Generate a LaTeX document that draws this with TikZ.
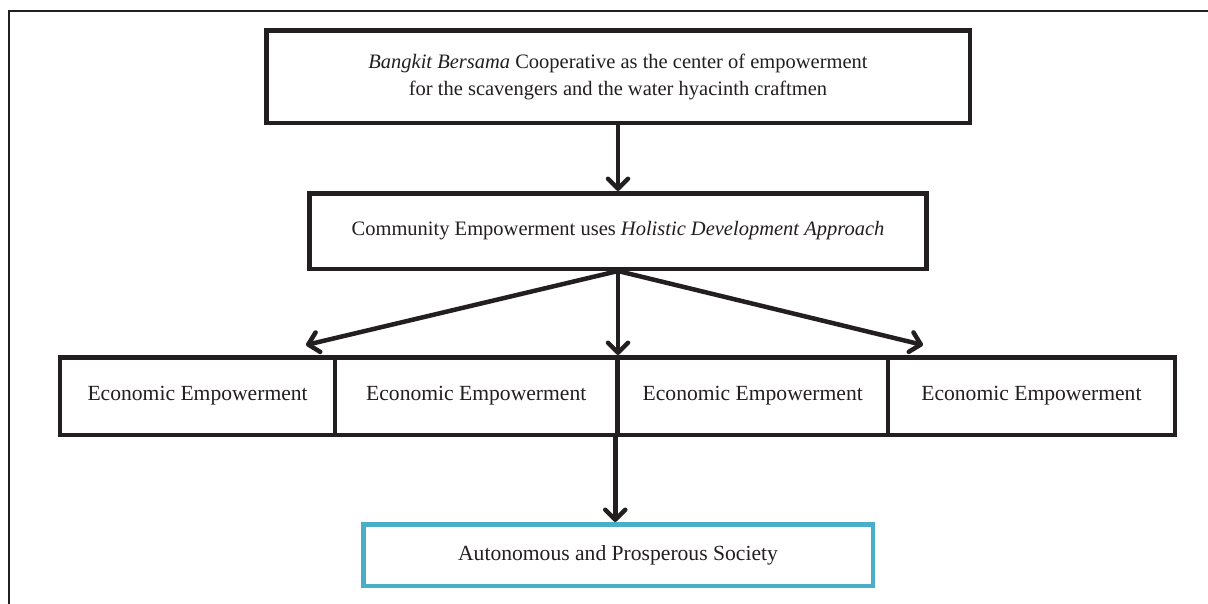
\documentclass[tikz,border=0pt]{standalone}
\usepackage{fontspec}
\setmainfont{Liberation Serif}
\usetikzlibrary{arrows.meta,calc}
\definecolor{ink}{HTML}{231F20}
\definecolor{cyanline}{HTML}{4BAEC8}
\begin{document}
\begin{tikzpicture}[x=1pt,y=-1pt,
  box/.style={draw=ink, line width=4.5pt, rectangle, inner sep=0pt, align=center,
    font=\fontsize{20.5}{27}\selectfont, text=ink},
  cell/.style={box, minimum height=77.5pt, font=\fontsize{21.6}{27}\selectfont},
  goal/.style={box, draw=cyanline, font=\fontsize{21.6}{27}\selectfont},
  arr/.style={draw=ink, line width=4.5pt, line cap=round,
    -{Straight Barb[length=10pt,width=20pt,line cap=round,line join=round]}}]
\useasboundingbox (0,0) rectangle (1208,603);
\clip (0,0) rectangle (1208,603);
\fill[white] (0,0) rectangle (1208,603);
\draw[ink, line width=2pt] (9,11) rectangle (1230,640);
\node[box, minimum width=703.5pt, minimum height=92.5pt] (top) at (618,76.5)
  {\textit{Bangkit Bersama} Cooperative as the center of empowerment\\for the scavengers and the water hyacinth craftmen};
\node[box, minimum width=617pt, minimum height=75.5pt] (mid) at (618,231)
  {Community Empowerment uses \textit{Holistic Development Approach}};
\node[cell, minimum width=274.75pt] (e1) at (197.6,396) {Economic Empowerment};
\node[cell, minimum width=282.5pt] (e2) at (476.25,396) {Economic Empowerment};
\node[cell, minimum width=270.5pt] (e3) at (752.75,396) {Economic Empowerment};
\node[cell, minimum width=286.75pt] (e4) at (1031.4,396) {Economic Empowerment};
\node[goal, minimum width=509.5pt, minimum height=61.5pt] (soc) at (618,555)
  {Autonomous and Prosperous Society};
\coordinate (tl) at (306,345);
\coordinate (tr) at (923,345);
\draw[arr] (top.south) -- (top.south |- mid.north);
\draw[arr] (mid.south) -- (tl);
\draw[arr] (mid.south) -- (tr);
\draw[arr] (mid.south) -- (mid.south |- e3.north);
\draw[arr] (e3.south west) -- (e3.south west |- soc.north);
\end{tikzpicture}
\end{document}
